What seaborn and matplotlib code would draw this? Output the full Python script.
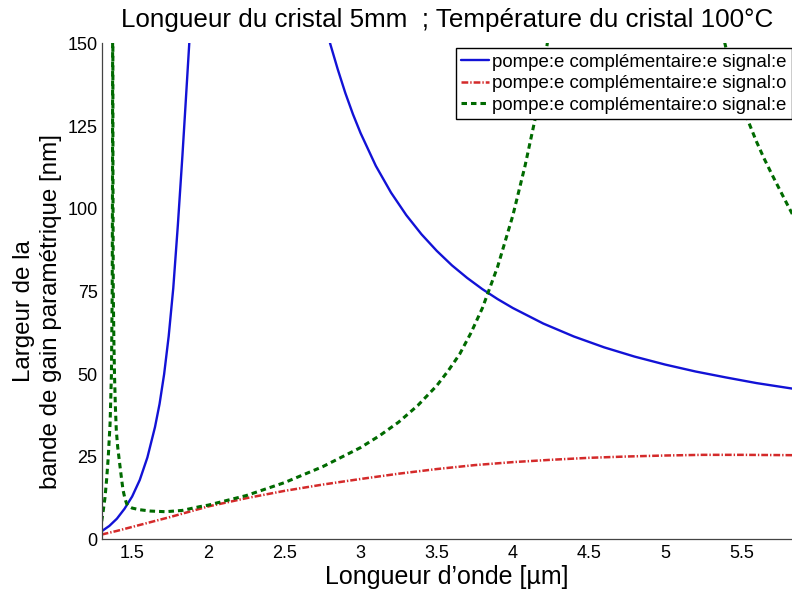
import numpy as np
import pandas as pd
import matplotlib
matplotlib.use("Agg")
import matplotlib.pyplot as plt
from matplotlib.lines import Line2D
import seaborn as sns

# Bande de gain paramétrique en fonction de la longueur d'onde du signal
# Chaque courbe est découpée en branches (divergence de la largeur de bande)

# pompe:e complémentaire:e signal:e
ee_e_branch1_x = [1.30, 1.35, 1.40, 1.45, 1.50, 1.55, 1.60, 1.65, 1.68, 1.71,
                  1.74, 1.77, 1.80, 1.83, 1.85, 1.875, 1.90]
ee_e_branch1_y = [2.5, 4.1, 6.3, 9.3, 13.0, 18.0, 24.8, 34.0, 41.0, 50.0,
                  61.5, 76.0, 95.0, 116.0, 131.0, 150.0, 170.0]
ee_e_branch2_x = [2.78, 2.80, 2.85, 2.90, 2.95, 3.00, 3.10, 3.20, 3.30, 3.40,
                  3.50, 3.60, 3.70, 3.80, 3.90, 4.00, 4.20, 4.40, 4.60, 4.80,
                  5.00, 5.20, 5.40, 5.60, 5.84]
ee_e_branch2_y = [153.9, 150.0, 142.2, 135.0, 128.6, 122.9, 113.0, 104.9, 98.1,
                  92.3, 87.3, 82.9, 79.1, 75.7, 72.7, 70.0, 65.3, 61.4, 58.1,
                  55.3, 52.9, 50.8, 49.0, 47.3, 45.6]

# pompe:e complémentaire:e signal:o
ee_o_x = [1.30, 1.40, 1.50, 1.625, 1.75, 1.875, 2.00, 2.25, 2.50, 2.75, 3.00,
          3.25, 3.50, 3.75, 4.00, 4.25, 4.50, 4.75, 5.00, 5.25, 5.50, 5.84]
ee_o_y = [1.5, 2.6, 3.8, 5.3, 6.8, 8.4, 10.0, 12.5, 14.7, 16.6, 18.3,
          19.9, 21.3, 22.5, 23.4, 24.1, 24.7, 25.1, 25.4, 25.6, 25.6, 25.5]

# pompe:e complémentaire:o signal:e
eo_e_branch1_x = [1.300, 1.311, 1.322, 1.333, 1.343, 1.355, 1.364, 1.369,
                  1.371, 1.372, 1.373]
eo_e_branch1_y = [5.5, 9.0, 12.8, 18.5, 24.9, 35.0, 50.0, 75.0,
                  110.0, 160.0, 170.0]
eo_e_branch2_x = [1.373, 1.374, 1.376, 1.380, 1.384, 1.390, 1.396, 1.405,
                  1.418, 1.430, 1.440, 1.452, 1.464, 1.480, 1.500, 1.550,
                  1.620, 1.720, 1.830, 1.940, 2.000, 2.250, 2.500, 2.750,
                  3.000, 3.125, 3.250, 3.375, 3.500, 3.575, 3.650, 3.725,
                  3.800, 3.900, 4.000, 4.080, 4.150, 4.220, 4.250]
eo_e_branch2_y = [170.0, 110.0, 75.0, 60.0, 50.0, 40.0, 33.0, 28.0,
                  23.0, 18.5, 15.0, 12.5, 10.8, 10.0, 9.5, 9.0,
                  8.6, 8.4, 8.8, 9.9, 10.4, 13.3, 17.2, 22.0,
                  27.8, 31.4, 35.5, 40.5, 46.5, 51.0, 56.0, 62.5,
                  70.0, 82.5, 98.0, 113.0, 128.0, 148.0, 158.0]
eo_e_branch3_x = [5.36, 5.38, 5.40, 5.45, 5.50, 5.55, 5.60, 5.65, 5.70,
                  5.75, 5.80, 5.84]
eo_e_branch3_y = [156.0, 152.5, 148.5, 140.0, 132.5, 126.0, 120.3, 115.2,
                  110.5, 106.0, 101.5, 98.0]

x_ticks = [1.5, 2, 2.5, 3, 3.5, 4, 4.5, 5, 5.5]
x_tick_labels = ["1.5", "2", "2.5", "3", "3.5", "4", "4.5", "5", "5.5"]
y_ticks = [0, 25, 50, 75, 100, 125, 150]

legend_labels = ["pompe:e complémentaire:e signal:e",
                 "pompe:e complémentaire:e signal:o",
                 "pompe:e complémentaire:o signal:e"]


def branches(*pairs):
    frames = []
    for i, (bx, by) in enumerate(pairs):
        frames.append(pd.DataFrame({"x": bx, "y": by, "branche": i}))
    return pd.concat(frames, ignore_index=True)


df_ee_e = branches((ee_e_branch1_x, ee_e_branch1_y), (ee_e_branch2_x, ee_e_branch2_y))
df_ee_o = branches((ee_o_x, ee_o_y))
df_eo_e = branches((eo_e_branch1_x, eo_e_branch1_y),
                   (eo_e_branch2_x, eo_e_branch2_y),
                   (eo_e_branch3_x, eo_e_branch3_y))

sns.set_theme(style="white")
plt.rcParams["font.family"] = ["Liberation Sans", "DejaVu Sans"]
plt.rcParams["text.color"] = "black"
plt.rcParams["axes.labelcolor"] = "black"

fig = plt.figure(figsize=(7.92, 5.90), dpi=100)
ax = fig.add_axes([0.1284, 0.0856, 0.8716, 0.8407])

blue = "#1212d6"
red = "#d42a2a"
green = "#006a00"

styles = [
    dict(color=blue, lw=1.7, linestyle="-"),
    dict(color=red, lw=1.8, linestyle=(0, (2.7, 0.8, 0.55, 0.8))),
    dict(color=green, lw=2.2, linestyle=(0, (1.8, 1.3))),
]

for df, st in zip([df_ee_e, df_ee_o, df_eo_e], styles):
    sns.lineplot(data=df, x="x", y="y", units="branche", estimator=None,
                 sort=False, legend=False, ax=ax, **st)

ax.set_xlim(1.3, 5.833)
ax.set_ylim(0, 150)
ax.set_xticks(x_ticks)
ax.set_xticklabels(x_tick_labels)
ax.set_yticks(y_ticks)

for side in ["top", "right"]:
    ax.spines[side].set_visible(False)
for side in ["left", "bottom"]:
    ax.spines[side].set_color("#444444")
    ax.spines[side].set_linewidth(0.9)

ax.tick_params(axis="both", direction="in", length=4.3, width=0.8,
               color="#444444", labelsize=13, labelcolor="black")
ax.tick_params(axis="x", pad=4)
ax.tick_params(axis="y", pad=3)

ax.set_xlabel("Longueur d\u2019onde [µm]", fontsize=18, labelpad=2)
ax.set_ylabel("Largeur de la\nbande de gain paramétrique [nm]", fontsize=17.4,
              linespacing=1.25)
ax.yaxis.set_label_coords(-0.058, 0.46)
ax.set_title("Longueur du cristal 5mm  ; Température du cristal 100°C",
             fontsize=18.7, pad=12, color="black")

handles = [Line2D([], [], **st) for st in styles]
leg = ax.legend(handles, legend_labels, loc="upper right",
                bbox_to_anchor=(0.9996, 0.990), fontsize=13.4,
                frameon=True, fancybox=False, framealpha=1,
                edgecolor="black", borderpad=0.28, labelspacing=0.24,
                handlelength=1.5, handletextpad=0.15, borderaxespad=0)
leg.get_frame().set_linewidth(1.0)

fig.savefig("out.png", dpi=100)
